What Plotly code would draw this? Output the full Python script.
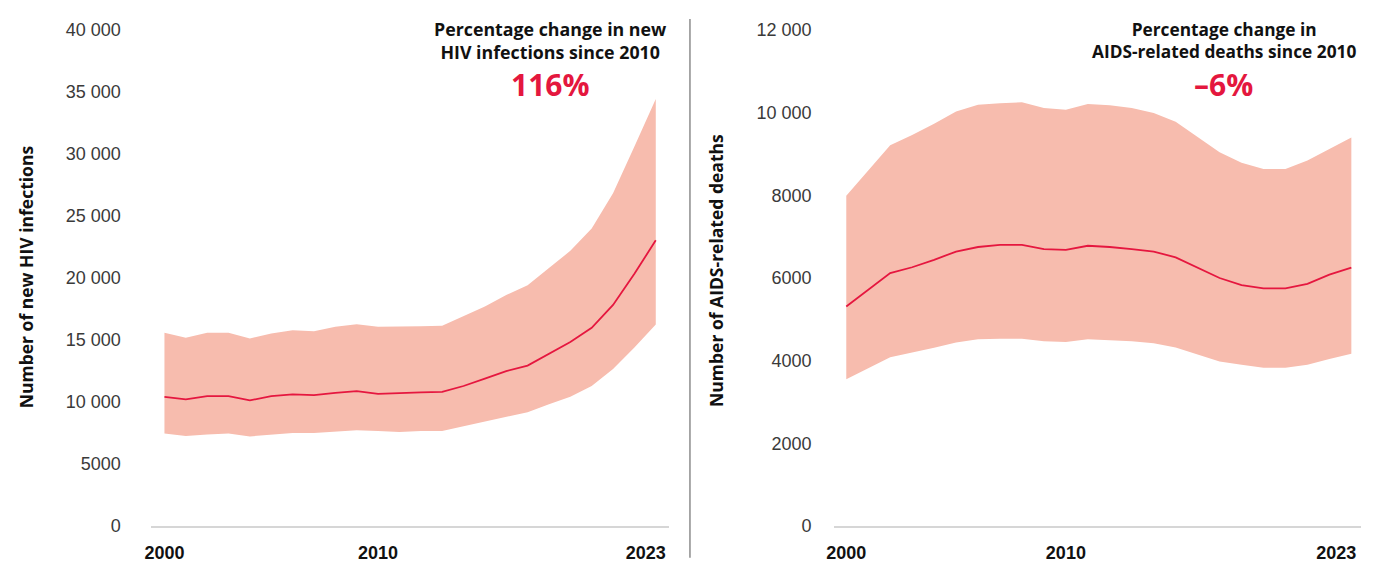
import plotly.graph_objects as go

years = list(range(2000, 2024))

# New HIV infections
hiv_mid = [10420, 10210, 10480, 10480, 10130, 10480, 10610, 10560, 10740, 10870,
           10650, 10740, 10770, 10820, 11290, 11880, 12490, 12940, 13860, 14840,
           15980, 17830, 20340, 23040]
hiv_low = [7460, 7250, 7380, 7460, 7220, 7380, 7510, 7510, 7590, 7720,
           7670, 7590, 7670, 7670, 8040, 8440, 8810, 9180, 9820, 10420,
           11290, 12670, 14390, 16250]
hiv_high = [15580, 15180, 15580, 15580, 15130, 15530, 15790, 15710, 16060, 16270,
            16060, 16060, 16110, 16140, 16900, 17700, 18620, 19420, 20800, 22190,
            23990, 26830, 30600, 34440]

# AIDS-related deaths
aids_mid = [5310, 5710, 6120, 6260, 6440, 6640, 6750, 6800, 6800, 6700,
            6680, 6780, 6750, 6700, 6640, 6500, 6240, 6000, 5830, 5750,
            5750, 5860, 6080, 6250]
aids_low = [3550, 3820, 4080, 4200, 4310, 4440, 4520, 4530, 4530, 4470,
            4450, 4520, 4490, 4470, 4420, 4320, 4150, 3980, 3900, 3830,
            3830, 3900, 4040, 4170]
aids_high = [7990, 8600, 9210, 9460, 9730, 10030, 10190, 10230, 10250, 10110,
             10070, 10210, 10180, 10110, 9990, 9780, 9410, 9040, 8790, 8640,
             8640, 8840, 9120, 9400]

x_tickvals = [2000, 2010, 2023]
x_ticktext_left = ["2000", "2010", "2023\u2007\u2007"]
x_ticktext_right = ["2000", "2010", "2023\u2007\u2007\u2007"]
hiv_tickvals = [0, 5000, 10000, 15000, 20000, 25000, 30000, 35000, 40000]
hiv_ticktext = ["0", "5000", "10 000", "15 000", "20 000", "25 000", "30 000", "35 000", "40 000"]
aids_tickvals = [0, 2000, 4000, 6000, 8000, 10000, 12000]
aids_ticktext = ["0", "2000", "4000", "6000", "8000", "10 000", "12 000"]

BAND = "#F7BCAE"
LINE = "#E5173F"
RED = "#E4173E"
HEAD = "Open Sans"
TICK = "Liberation Sans"

OFF = 8  # default page margin around the plot div
W, H = 1386 - OFF, 563 - OFF
T = 30 - OFF
B = H - (531 - OFF)
PH = H - T - B

def px(xpix):
    return (xpix - OFF) / W

def py(ypix):
    return (H - B - (ypix - OFF)) / PH

fig = go.Figure()

def add_panel(xa, ya, low, high, mid, name):
    fig.add_trace(go.Scatter(x=years, y=low, mode="lines", line=dict(width=0, color=BAND),
                             xaxis=xa, yaxis=ya, showlegend=False, hoverinfo="skip"))
    fig.add_trace(go.Scatter(x=years, y=high, mode="lines", line=dict(width=0, color=BAND),
                             fill="tonexty", fillcolor=BAND,
                             xaxis=xa, yaxis=ya, showlegend=False, hoverinfo="skip"))
    fig.add_trace(go.Scatter(x=years, y=mid, mode="lines", line=dict(width=1.8, color=LINE),
                             xaxis=xa, yaxis=ya, showlegend=False, name=name))

add_panel("x", "y", hiv_low, hiv_high, hiv_mid, "New HIV infections")
add_panel("x2", "y2", aids_low, aids_high, aids_mid, "AIDS-related deaths")

xcommon = dict(tickvals=x_tickvals, showgrid=False, zeroline=False,
               showline=True, linecolor="#d6d6d6", linewidth=2, ticks="",
               tickfont=dict(family=TICK, size=18, color="#111111", weight="bold"),
               ticklabelstandoff=9, ticklabeloverflow="allow")
ycommon = dict(showgrid=False, zeroline=False, showline=False, ticks="",
               tickfont=dict(family=TICK, size=18, color="#3a3a3a"))

fig.update_layout(
    width=W, height=H,
    margin=dict(l=0, r=0, t=T, b=B),
    paper_bgcolor="white", plot_bgcolor="white",
    xaxis=dict(domain=[px(147), px(678)], range=[1999.36, 2023.64], anchor="y",
               ticktext=x_ticktext_left, **xcommon),
    yaxis=dict(range=[0, 40000], tickvals=hiv_tickvals, ticktext=hiv_ticktext,
               anchor="x", ticklabelstandoff=29, **ycommon),
    xaxis2=dict(domain=[px(846), 1.0], range=[1999.42, 2023.44], anchor="y2",
                ticktext=x_ticktext_right, **xcommon),
    yaxis2=dict(range=[0, 12000], tickvals=aids_tickvals, ticktext=aids_ticktext,
                anchor="x2", ticklabelstandoff=21, **ycommon),
)

annots = [
    dict(text="<b>Number of new HIV infections</b>", x=px(19), y=py(279), textangle=-90,
         font=dict(family=HEAD, size=17.5, color="#111")),
    dict(text="<b>Number of AIDS-related deaths</b>", x=px(725), y=py(273), textangle=-90,
         font=dict(family=HEAD, size=17.5, color="#111")),
    dict(text="<b>Percentage change in new<br>HIV infections since 2010</b>", x=px(556), y=py(41),
         font=dict(family=HEAD, size=17.8, color="#111")),
    dict(text="<b>116%</b>", x=px(556), y=py(85), font=dict(family=HEAD, size=30, color=RED)),
    dict(text="<b>Percentage change in<br>AIDS-related deaths since 2010</b>", x=px(1246), y=py(41),
         font=dict(family=HEAD, size=17.3, color="#111")),
    dict(text="<b>\u20136%</b>", x=px(1245), y=py(85), font=dict(family=HEAD, size=30, color=RED)),
]
for a in annots:
    a.update(xref="paper", yref="paper", showarrow=False, xanchor="center", yanchor="middle")
    fig.add_annotation(**a)

fig.add_shape(type="line", xref="paper", yref="paper", x0=px(699), x1=px(699),
              y0=py(563), y1=py(19), line=dict(color="#8c8c8c", width=1.5))

fig.write_html("out.html", config={"displayModeBar": False})
